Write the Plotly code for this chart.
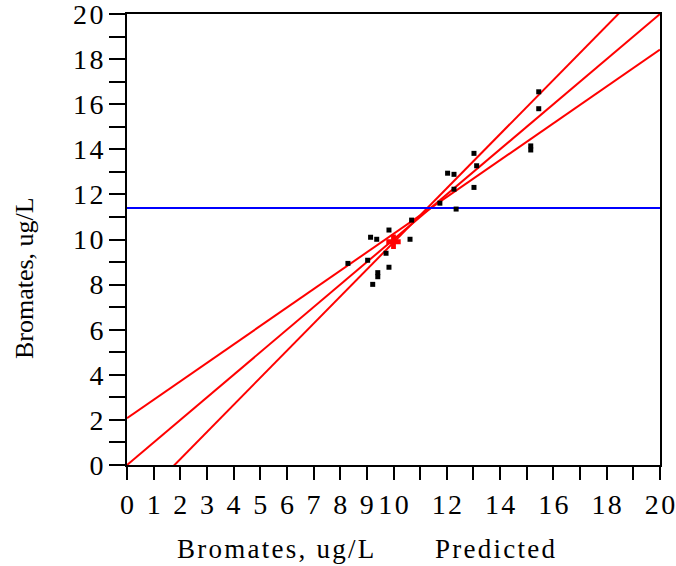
import numpy as np
import plotly.graph_objects as go

# Predicted (x) and actual (y) bromate values, ug/L
predicted = [8.29, 9.03, 9.14, 9.37, 9.22, 9.41, 9.41, 9.72, 9.83, 9.83, 10.62, 10.68,
             11.74, 12.03, 12.27, 12.27, 12.35, 13.02, 13.02, 13.12, 15.15, 15.15, 15.45, 15.45]
actual = [8.94, 9.08, 10.10, 10.01, 8.01, 8.53, 8.35, 9.39, 10.42, 8.77, 10.01, 10.86,
          11.61, 12.94, 12.89, 12.23, 11.35, 13.82, 12.31, 13.27, 14.15, 13.97, 16.55, 15.80]

# marked point (red plus)
mark_x = [10.0]
mark_y = [9.90]

# horizontal mean line of response
mean_actual = 11.4

# red lines: (intercept, slope)
fit_lines = [(0.0, 1.0), (2.08, 0.817), (-2.14, 1.201)]

x_tick_vals = list(range(0, 21))
x_tick_text = ["0", "1", "2", "3", "4", "5", "6", "7", "8", "9", "10", "", "12", "", "14",
               "", "16", "", "18", "", "20"]
y_tick_vals = list(range(0, 21))
y_tick_text = [str(v) if v % 2 == 0 else "" for v in y_tick_vals]

x_title_left = "Bromates, ug/L"
x_title_right = "Predicted"
y_title = "Bromates, ug/L"

FONT = "Liberation Serif, Times New Roman, serif"
HAIR = "\u200a"


def spaced(s, sep):
    return sep.join(list(s))


fig = go.Figure()

xs = np.array([0.0, 20.0])
for b0, b1 in fit_lines:
    fig.add_trace(go.Scatter(x=xs, y=b0 + b1 * xs, mode="lines",
                             line=dict(color="#ff0000", width=2), showlegend=False,
                             hoverinfo="skip"))

fig.add_trace(go.Scatter(x=xs, y=[mean_actual, mean_actual], mode="lines",
                         line=dict(color="#0000ff", width=2), showlegend=False))

fig.add_trace(go.Scatter(x=predicted, y=actual, mode="markers",
                         marker=dict(symbol="square", size=5, color="black",
                                     line=dict(width=0)),
                         showlegend=False))

fig.add_trace(go.Scatter(x=mark_x, y=mark_y, mode="markers",
                         marker=dict(symbol="cross", size=12, color="#ff0000",
                                     line=dict(width=0)),
                         showlegend=False))

fig.update_layout(
    width=676, height=566,
    margin=dict(l=127, r=16, t=14, b=101),
    plot_bgcolor="white", paper_bgcolor="white",
    font=dict(family=FONT, size=28, color="black"),
    xaxis=dict(range=[0, 20], tickmode="array", tickvals=x_tick_vals,
               ticktext=[spaced(t, HAIR) for t in x_tick_text],
               ticks="outside", ticklen=13, tickwidth=2, tickcolor="black",
               showline=True, linewidth=2, linecolor="black", mirror=True,
               showgrid=False, zeroline=False, tickangle=0, automargin=False,
               ticklabeloverflow="allow",
               tickfont=dict(family=FONT, size=28)),
    yaxis=dict(range=[0, 20], tickmode="array", tickvals=y_tick_vals,
               ticktext=[spaced(t, HAIR) for t in y_tick_text],
               ticks="outside", ticklen=16, tickwidth=2, tickcolor="black",
               showline=True, linewidth=2, linecolor="black", mirror=True,
               showgrid=False, zeroline=False, automargin=False,
               ticklabeloverflow="allow",
               tickfont=dict(family=FONT, size=28)),
    annotations=[
        dict(text=spaced(x_title_left, HAIR), xref="paper", yref="paper", x=0.2795, y=-0.186,
             xanchor="center", yanchor="middle", showarrow=False,
             font=dict(family=FONT, size=27)),
        dict(text=spaced(x_title_right, HAIR), xref="paper", yref="paper", x=0.690, y=-0.186,
             xanchor="center", yanchor="middle", showarrow=False,
             font=dict(family=FONT, size=27)),
        dict(text=y_title, xref="paper", yref="paper", x=-0.191, y=0.415,
             xanchor="center", yanchor="middle", showarrow=False, textangle=-90,
             font=dict(family=FONT, size=26)),
    ],
)

fig.write_html("out.html", config={"displayModeBar": False},
               post_script="document.body.style.margin='0';"
                           "document.body.style.overflow='hidden';")
